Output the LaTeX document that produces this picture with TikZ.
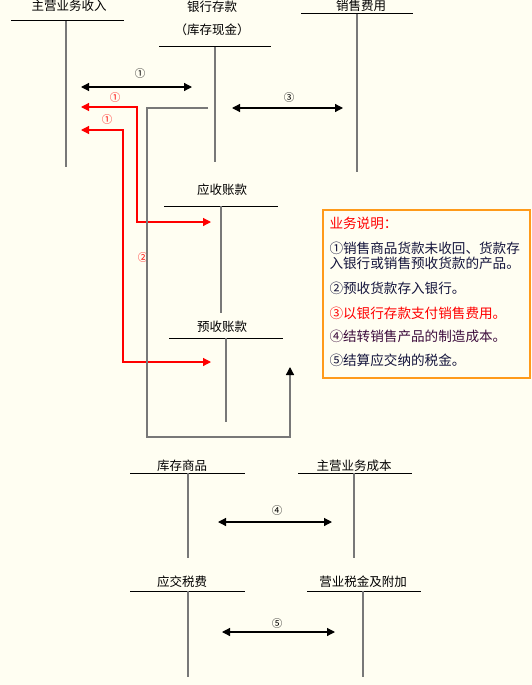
\documentclass[tikz,border=0pt]{standalone}
\usepackage{fontspec}
\setmainfont{Noto Sans CJK SC}
\usetikzlibrary{arrows.meta, positioning}
\definecolor{cbg}{HTML}{FFFEF2}
\definecolor{cstem}{HTML}{787878}
\definecolor{cred}{HTML}{FF0000}
\definecolor{corange}{HTML}{FF9A1A}
\definecolor{cnavy}{HTML}{14143C}
\definecolor{cplum}{HTML}{3C0C3C}
\tikzset{
  every picture/.style={font=\fontsize{12.5}{14}\selectfont, line width=1pt},
  title/.style={inner sep=0pt},
  bar/.style={draw=black, line width=1pt},
  stem/.style={draw=cstem, line width=1.3pt},
  twoway/.style={{Triangle[length=8pt, width=8pt]}-{Triangle[length=8pt, width=8pt]}, draw=#1, line width=1.2pt},
  twoway/.default=black,
  num/.style={font=\fontsize{10.5}{11}\selectfont, inner sep=0pt, text=#1},
  num/.default=black,
  note/.style={font=\fontsize{13.6}{15}\selectfont, anchor=west, inner sep=0pt, text=#1},
  note/.default=cnavy,
}
\begin{document}
\begin{tikzpicture}[x=1pt, y=-1pt]
  \fill[cbg] (0,0) rectangle (532,685);
  \useasboundingbox (0,0) rectangle (532,685);
  % upper accounts
  \node[title] (revenue) at (69,6) {主营业务收入};
  \draw[bar] (11,21) -- (124,21);
  \draw[stem] (66,21) -- (66,167);
  \node[title] (bank) at (212,7) {银行存款};
  \node[title] (cash) at (212,30) {（库存现金）};
  \draw[bar] (159,47) -- (271,47);
  \draw[stem] (215,47) -- (215,162);
  \node[title] (selling) at (361,6) {销售费用};
  \draw[bar] (301,14) -- (413,14);
  \draw[stem] (357,14) -- (357,172);
  \node[title] (receivable) at (222,190) {应收账款};
  \draw[bar] (164,206) -- (278,206);
  \draw[stem] (221,206) -- (221,313);
  \node[title] (advance) at (222,327) {预收账款};
  \draw[bar] (169,338) -- (283,338);
  \draw[stem] (226,338) -- (226,422);
  % connectors
  \coordinate (a1l) at (81,87);   \coordinate (a1r) at (192,87);
  \coordinate (a3l) at (232,108); \coordinate (a3r) at (343,108);
  \coordinate (r1s) at (81,107);  \coordinate (r1e) at (211,222);
  \coordinate (r2s) at (81,130);  \coordinate (r2e) at (211,362);
  \coordinate (b2s) at (208,108); \coordinate (b2e) at (290,367);
  \draw[twoway] (a1l) -- (a1r);
  \node[num] (n1) at (140,74) {①};
  \draw[twoway] (a3l) -- (a3r);
  \node[num] (n3) at (289,98) {③};
  \draw[twoway=cred] (r1s) -| (137,222) -- (r1e);
  \node[num=cred] (n1a) at (115,98) {①};
  \draw[twoway=cred] (r2s) -| (123,362) -- (r2e);
  \node[num=cred] (n1b) at (107,120) {①};
  \node[num=cred] (n2) at (143,258) {②};
  \draw[cstem, line width=1.3pt, -{Triangle[length=8pt, width=8pt, color=black]}] (b2s) -| (147,437) -| (b2e);
  % notes
  \draw[corange, line width=2pt] (323,210) rectangle (530,378);
  \node[note=cred] (head) at (329,223) {业务说明：};
  \node[note] (t1) at (329,248) {①销售商品货款未收回、货款存};
  \node[note] (t1b) at (329,263) {入银行或销售预收货款的产品。};
  \node[note] (t2) at (329,288) {②预收货款存入银行。};
  \node[note=cred] (t3) at (329,313) {③以银行存款支付销售费用。};
  \node[note=cplum] (t4) at (329,336) {④结转销售产品的制造成本。};
  \node[note] (t5) at (329,360) {⑤结算应交纳的税金。};
  % lower accounts
  \node[title] (stock) at (182,466) {库存商品};
  \draw[bar] (130,473) -- (245,473);
  \draw[stem] (188,473) -- (188,558);
  \node[title] (cost) at (354,466) {主营业务成本};
  \draw[bar] (298,473) -- (412,473);
  \draw[stem] (354,473) -- (354,558);
  \coordinate (a4l) at (218,522); \coordinate (a4r) at (332,522);
  \draw[twoway] (a4l) -- (a4r);
  \node[num] (n4) at (277,511) {④};
  \node[title] (taxpay) at (182,582) {应交税费};
  \draw[bar] (130,591) -- (245,591);
  \draw[stem] (188,591) -- (188,677);
  \node[title] (tax) at (363,582) {营业税金及附加};
  \draw[bar] (307,591) -- (421,591);
  \draw[stem] (363,591) -- (363,677);
  \coordinate (a5l) at (222,632); \coordinate (a5r) at (335,632);
  \draw[twoway] (a5l) -- (a5r);
  \node[num] (n5) at (277,624) {⑤};
\end{tikzpicture}
\end{document}
